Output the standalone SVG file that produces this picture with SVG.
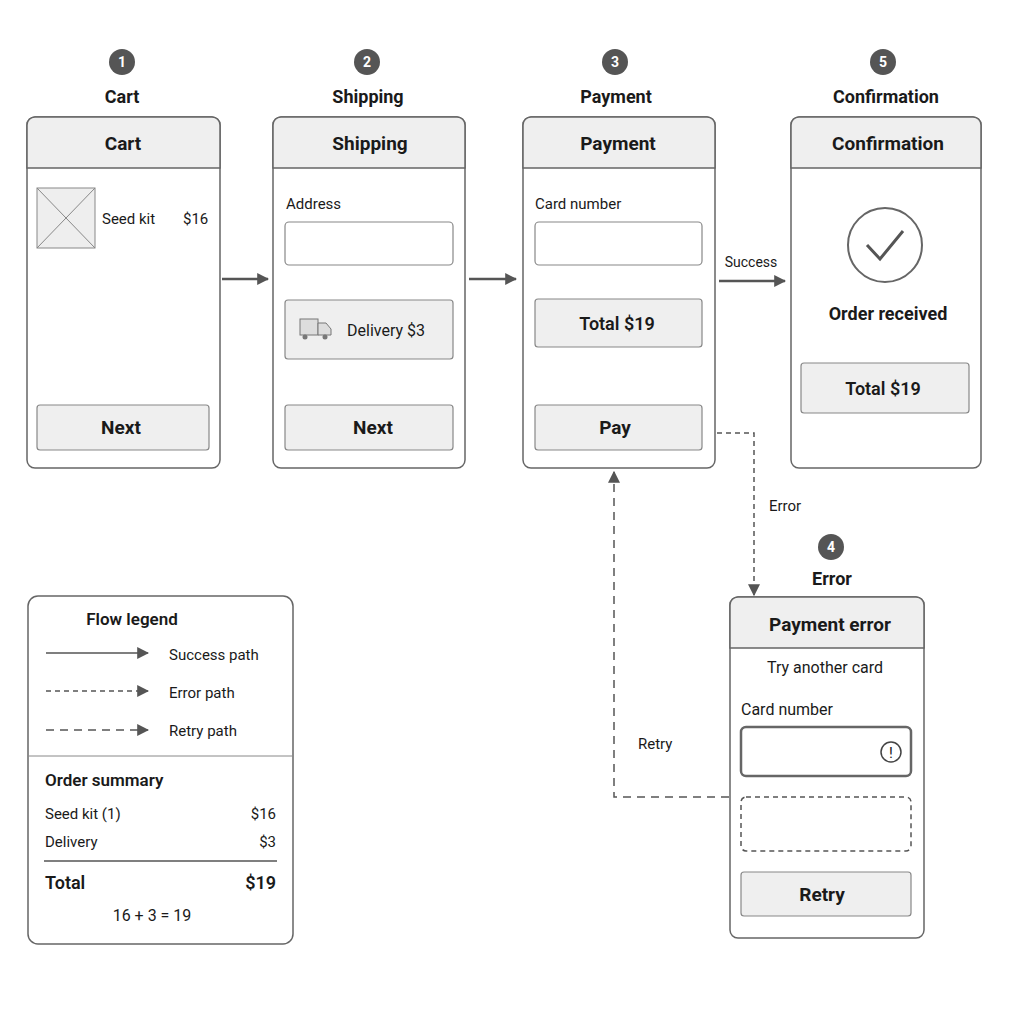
<svg xmlns="http://www.w3.org/2000/svg" width="1024" height="1024" viewBox="0 0 1024 1024">
<style>
text{font-family:Roboto,"Liberation Sans",sans-serif;fill:#1a1a1a}
.frame{fill:#fff;stroke:#666;stroke-width:1.5}
.hdr{fill:#efefef;stroke:#666;stroke-width:1.5}
.box{fill:#fff;stroke:#888;stroke-width:1.2}
.btn{fill:#efefef;stroke:#888;stroke-width:1.2}
.t{font-size:19px;font-weight:bold;text-anchor:middle}
.s{font-size:15px}
.lbl{font-size:18px;font-weight:bold;text-anchor:middle}
.badge{fill:#555}
.bn{fill:#fff;font-size:14px;font-weight:bold;text-anchor:middle}
.solid{stroke:#555;stroke-width:2.5;fill:none}
.dash{stroke:#555;stroke-width:1.5;fill:none;stroke-dasharray:5 4}
.dash2{stroke:#555;stroke-width:1.5;fill:none;stroke-dasharray:8 6}
</style>
<defs>
<marker id="ah" viewBox="0 0 10 10" refX="9" refY="5" markerWidth="5" markerHeight="5" orient="auto" markerUnits="userSpaceOnUse"><path d="M0,0 L10,5 L0,10z" fill="#555"/></marker>
<marker id="ahb" viewBox="0 0 10 10" refX="9" refY="5" markerWidth="12" markerHeight="12" orient="auto" markerUnits="userSpaceOnUse"><path d="M0,0 L10,5 L0,10z" fill="#555"/></marker>
</defs>
<rect width="1024" height="1024" fill="#fff"/>

<g id="cart">
<circle class="badge" cx="122" cy="62" r="13"/><text class="bn" x="122" y="67">1</text>
<text class="lbl" x="122" y="103">Cart</text>
<rect class="frame" x="27" y="117" width="193" height="351" rx="8"/>
<path class="hdr" d="M27,168 V125 a8,8 0 0 1 8,-8 H212 a8,8 0 0 1 8,8 V168z"/>
<text class="t" x="123" y="150">Cart</text>
<rect x="37" y="188" width="58" height="60" fill="#eee" stroke="#888"/>
<path d="M37,188 L95,248 M95,188 L37,248" stroke="#888"/>
<text class="s" x="102" y="224">Seed kit</text><text class="s" x="183" y="224">$16</text>
<rect class="btn" x="37" y="405" width="172" height="45" rx="3"/>
<text class="t" x="121" y="434">Next</text>
</g>

<g id="shipping">
<circle class="badge" cx="367" cy="62" r="13"/><text class="bn" x="367" y="67">2</text>
<text class="lbl" x="368" y="103">Shipping</text>
<rect class="frame" x="273" y="117" width="192" height="351" rx="8"/>
<path class="hdr" d="M273,168 V125 a8,8 0 0 1 8,-8 H457 a8,8 0 0 1 8,8 V168z"/>
<text class="t" x="370" y="150">Shipping</text>
<text class="s" x="286" y="209">Address</text>
<rect class="box" x="285" y="222" width="168" height="43" rx="4"/>
<rect class="btn" x="285" y="300" width="168" height="59" rx="3"/>
<g fill="#ddd" stroke="#777"><rect x="300" y="319" width="18" height="16"/><path d="M318,323 H326 L331,329 V335 H318z"/></g>
<circle cx="305" cy="337" r="2.5" fill="#777"/><circle cx="325" cy="337" r="2.5" fill="#777"/>
<text class="s" x="347" y="336" style="font-size:16px">Delivery $3</text>
<rect class="btn" x="285" y="405" width="168" height="45" rx="3"/>
<text class="t" x="373" y="434">Next</text>
</g>

<g id="payment">
<circle class="badge" cx="615" cy="62" r="13"/><text class="bn" x="615" y="67">3</text>
<text class="lbl" x="616" y="103">Payment</text>
<rect class="frame" x="523" y="117" width="192" height="351" rx="8"/>
<path class="hdr" d="M523,168 V125 a8,8 0 0 1 8,-8 H707 a8,8 0 0 1 8,8 V168z"/>
<text class="t" x="618" y="150">Payment</text>
<text class="s" x="535" y="209">Card number</text>
<rect class="box" x="535" y="222" width="167" height="43" rx="4"/>
<rect class="btn" x="535" y="299" width="167" height="48" rx="3" fill="#f4f4f4"/>
<text class="t" x="617" y="330" style="font-size:18px;font-weight:600">Total  $19</text>
<rect class="btn" x="535" y="405" width="167" height="45" rx="3"/>
<text class="t" x="615" y="434">Pay</text>
</g>

<g id="confirmation">
<circle class="badge" cx="883" cy="62" r="13"/><text class="bn" x="883" y="67">5</text>
<text class="lbl" x="886" y="103">Confirmation</text>
<rect class="frame" x="791" y="117" width="190" height="351" rx="8"/>
<path class="hdr" d="M791,168 V125 a8,8 0 0 1 8,-8 H973 a8,8 0 0 1 8,8 V168z"/>
<text class="t" x="888" y="150">Confirmation</text>
<circle cx="885" cy="245" r="37" fill="#fff" stroke="#666" stroke-width="2"/>
<path d="M867,245 L880,259 L903,231" fill="none" stroke="#555" stroke-width="3"/>
<text class="t" x="888" y="320" style="font-size:18px">Order received</text>
<rect class="btn" x="801" y="363" width="168" height="50" rx="3" fill="#f4f4f4"/>
<text class="t" x="883" y="395" style="font-size:18px;font-weight:600">Total  $19</text>
</g>

<g id="error">
<circle class="badge" cx="831" cy="547" r="13"/><text class="bn" x="831" y="552">4</text>
<text class="lbl" x="832" y="585">Error</text>
<rect class="frame" x="730" y="597" width="194" height="341" rx="8"/>
<path class="hdr" d="M730,648 V605 a8,8 0 0 1 8,-8 H916 a8,8 0 0 1 8,8 V648z"/>
<text class="t" x="830" y="631">Payment error</text>
<text class="s" x="825" y="673" text-anchor="middle" style="font-size:16px">Try another card</text>
<text class="s" x="741" y="715" style="font-size:16px">Card number</text>
<rect x="741" y="727" width="170" height="49" rx="5" fill="#fff" stroke="#666" stroke-width="2.5"/>
<circle cx="891" cy="752" r="10" fill="none" stroke="#444" stroke-width="1.5"/>
<text x="891" y="758" text-anchor="middle" style="font-size:15px">!</text>
<rect class="dash" x="741" y="797" width="170" height="54" rx="5"/>
<rect class="btn" x="741" y="872" width="170" height="44" rx="3"/>
<text class="t" x="822" y="901">Retry</text>
</g>

<g id="legend">
<rect class="frame" x="28" y="596" width="265" height="348" rx="10"/>
<text x="132" y="625" text-anchor="middle" style="font-size:17px;font-weight:600">Flow legend</text>
<line x1="46" y1="653" x2="148" y2="653" stroke="#555" stroke-width="1.5" marker-end="url(#ahb)"/>
<text class="s" x="169" y="660">Success path</text>
<line x1="46" y1="691" x2="148" y2="691" class="dash" marker-end="url(#ahb)"/>
<text class="s" x="169" y="698">Error path</text>
<line x1="46" y1="730" x2="148" y2="730" class="dash2" marker-end="url(#ahb)"/>
<text class="s" x="169" y="736">Retry path</text>
<line x1="28" y1="756" x2="293" y2="756" stroke="#888"/>
<text x="45" y="786" style="font-size:17px;font-weight:600">Order summary</text>
<text class="s" x="45" y="819">Seed kit (1)</text><text class="s" x="276" y="819" text-anchor="end">$16</text>
<text class="s" x="45" y="847">Delivery</text><text class="s" x="276" y="847" text-anchor="end">$3</text>
<line x1="44" y1="861" x2="277" y2="861" stroke="#555" stroke-width="1.5"/>
<text x="45" y="889" style="font-size:18px;font-weight:600">Total</text><text x="276" y="889" text-anchor="end" style="font-size:18px;font-weight:600">$19</text>
<text class="s" x="152" y="921" text-anchor="middle" style="font-size:16px">16 + 3 = 19</text>
</g>

<g id="connectors">
<line class="solid" x1="222" y1="279" x2="268" y2="279" marker-end="url(#ahb)"/>
<line class="solid" x1="469" y1="279" x2="516" y2="279" marker-end="url(#ahb)"/>
<line class="solid" x1="719" y1="281" x2="785" y2="281" marker-end="url(#ahb)"/>
<text class="s" x="751" y="267" text-anchor="middle" style="font-size:14px">Success</text>
<path class="dash" d="M717,433 H754 V595" marker-end="url(#ahb)"/>
<text class="s" x="769" y="511">Error</text>
<path class="dash2" d="M729,797 H614 V472" marker-end="url(#ahb)"/>
<text class="s" x="638" y="749">Retry</text>
</g>
</svg>
